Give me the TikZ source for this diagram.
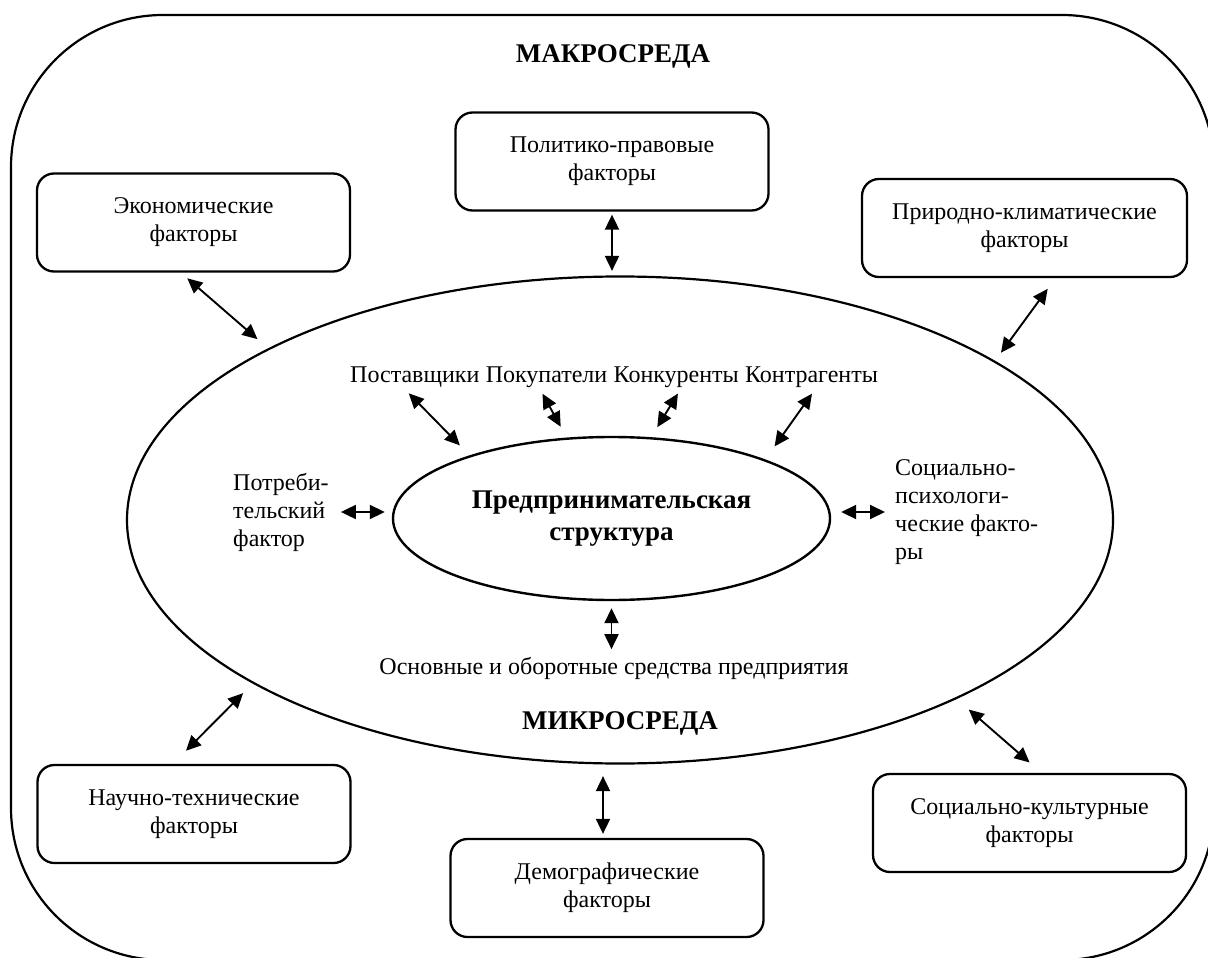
\documentclass[tikz,border=0pt]{standalone}
\usepackage{fontspec}
\setmainfont{Liberation Serif}
\usetikzlibrary{arrows.meta,shapes.geometric,positioning}

\begin{document}
\begin{tikzpicture}[x=1pt,y=-1pt,
  txt/.style={font=\fontsize{24}{28}\selectfont, inner sep=0pt},
  bold/.style={font=\fontsize{27}{32}\selectfont\bfseries, inner sep=0pt},
  factor/.style={draw, line width=2.3pt, rounded corners=17pt, minimum width=313pt, minimum height=98pt, align=center, font=\fontsize{24}{28}\selectfont},
  dbl/.style={line width=1.9pt, {Triangle[length=15pt,width=14pt]}-{Triangle[length=15pt,width=14pt]}}]
\useasboundingbox (0,0) rectangle (1208,958);

\node[draw, line width=2.2pt, rounded corners=152pt, minimum width=1203pt, minimum height=945pt] (macro) at (612.5,487.5) {};
\node[bold] (macrolbl) at (613,56) {МАКРОСРЕДА};
\node[draw, ellipse, line width=2.2pt, minimum width=986pt, minimum height=487pt, inner sep=0pt] (micro) at (620,520) {};
\node[bold] (microlbl) at (620,723) {МИКРОСРЕДА};
\node[draw, ellipse, line width=2.4pt, minimum width=437pt, minimum height=163pt, inner sep=0pt, align=center, bold] (struct) at (611.5,518.5) {Предпринимательская\\структура};

\node[factor] (econ) at (193.5,222.5) {Экономические\\факторы};
\node[factor] (polit) at (612,161.5) {Политико-правовые\\факторы};
\node[factor, minimum width=325pt] (prirod) at (1024.5,228) {Природно-климатические\\факторы};
\node[factor] (nauch) at (194,814) {Научно-технические\\факторы};
\node[factor] (demog) at (607,888) {Демографические\\факторы};
\node[factor] (socult) at (1029.5,823) {Социально-культурные\\факторы};

\node[txt, anchor=base west] (post) at (350,382) {Поставщики};
\node[txt, base right=6pt of post] (pokup) {Покупатели};
\node[txt, base right=6pt of pokup] (konk) {Конкуренты};
\node[txt, base right=6pt of konk] (kontr) {Контрагенты};
\node[txt, align=left, anchor=west] (potreb) at (233,512) {Потреби-\\тельский\\фактор};
\node[txt, align=left, anchor=west] (socpsy) at (895,512) {Социально-\\психологи-\\ческие факто-\\ры};
\node[txt] (osn) at (614,668) {Основные и оборотные средства предприятия};

\draw[dbl, shorten <=3pt, shorten >=4.5pt] (polit.south) -- (polit.south |- micro.north);
\draw[dbl, shorten <=4pt, shorten >=11.5pt] ([xshift=-4pt]demog.north) -- ([xshift=-4pt]demog.north |- micro.south);
\draw[dbl, shorten <=8.6pt, shorten >=14pt] ([xshift=-12.7pt]econ.south) -- (micro.154.8);
\draw[dbl, shorten <=13.2pt, shorten >=10pt] ([xshift=31pt]prirod.south) -- (micro.23.9);
\draw[dbl, shorten <=18.4pt, shorten >=13.5pt] ([xshift=-21pt]nauch.north) -- (micro.204.1);
\draw[dbl, shorten <=15.8pt, shorten >=16pt] ([xshift=12pt]socult.north) -- (micro.332.7);

\draw[dbl, shorten <=8.6pt, shorten >=14pt] ([xshift=-12pt]post.south) -- (struct.156.8);
\draw[dbl, shorten <=7.2pt, shorten >=12.3pt] ([xshift=-7.5pt]pokup.south) -- (struct.119.7);
\draw[dbl, shorten <=7.2pt, shorten >=11.7pt] ([xshift=5.5pt]konk.south) -- (struct.64.8);
\draw[dbl, shorten <=7.8pt, shorten >=16pt] ([xshift=5pt]kontr.south) -- (struct.21);
\draw[dbl, shorten <=12pt, shorten >=7pt] (potreb.east) -- (potreb.east -| struct.west);
\draw[dbl, shorten <=10pt, shorten >=10pt] (socpsy.west) -- (socpsy.west -| struct.east);
\draw[dbl, shorten <=7pt, shorten >=7.5pt] (struct.south) -- (struct.south |- osn.north);
\end{tikzpicture}
\end{document}
